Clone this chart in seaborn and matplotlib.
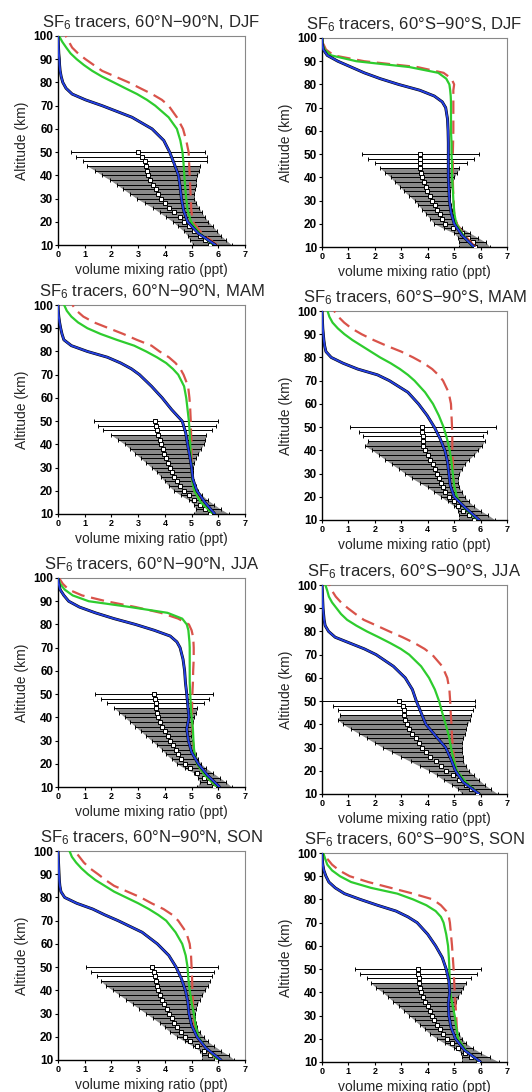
import numpy as np
import pandas as pd
import matplotlib
matplotlib.use("Agg")
import matplotlib.pyplot as plt
import seaborn as sns

# ---------------- data ----------------
ALT_MODEL = [10, 15, 20, 25, 30, 35, 40, 45, 50, 55, 60, 65, 70, 72.5, 75, 77.5,
             80, 82.5, 85, 87.5, 90, 92.5, 95, 97.5, 100]
ALT_OBS = [10, 12, 14, 16, 18, 20, 22, 24, 26, 28, 30, 32, 34, 36, 38, 40, 42, 44, 46, 48, 50]
SEASONS = ["DJF", "MAM", "JJA", "SON"]
X_TICKS = [0, 1, 2, 3, 4, 5, 6, 7]
Y_TICKS = [10, 20, 30, 40, 50, 60, 70, 80, 90, 100]

# 60N-90N DJF
N_DJF_RED = [5.95, 5.39, 5.05, 4.99, 4.97, 4.95, 4.93, 4.91, 4.89, 4.8, 4.68, 4.45, 4.14, 3.89, 3.52, 3.08, 2.65, 2.15, 1.65, 1.34, 1.03, 0.75, 0.53, 0.41, 0.29]
N_DJF_GREEN = [5.82, 5.3, 4.98, 4.85, 4.8, 4.76, 4.73, 4.7, 4.66, 4.58, 4.45, 4.14, 3.64, 3.33, 2.96, 2.52, 2.09, 1.65, 1.28, 0.97, 0.7, 0.47, 0.31, 0.16, 0.04]
N_DJF_BLUE = [5.9, 5.25, 4.85, 4.7, 4.62, 4.57, 4.51, 4.35, 4.18, 3.96, 3.52, 2.77, 1.65, 1.03, 0.53, 0.3, 0.18, 0.12, 0.08, 0.06, 0.05, 0.03, 0.02, 0.01, 0.0]
N_DJF_OBS = [5.7, 5.5, 5.3, 5.1, 4.9, 4.7, 4.55, 4.35, 4.15, 4.0, 3.85, 3.75, 3.65, 3.55, 3.45, 3.38, 3.32, 3.28, 3.25, 3.15, 3.0]
N_DJF_LO = [5.05, 4.95, 4.85, 4.7, 4.5, 4.3, 4.05, 3.8, 3.55, 3.25, 2.95, 2.7, 2.45, 2.2, 1.95, 1.65, 1.4, 1.1, 0.92, 0.67, 0.5]
N_DJF_HI = [6.5, 6.3, 6.1, 5.95, 5.8, 5.63, 5.5, 5.38, 5.28, 5.18, 5.1, 5.1, 5.12, 5.15, 5.18, 5.22, 5.28, 5.32, 5.57, 5.57, 5.5]

# 60S-90S DJF
S_DJF_RED = [5.8, 5.4, 5.1, 5.0, 4.98, 4.96, 4.95, 4.95, 4.95, 4.96, 4.97, 4.97, 4.97, 4.97, 4.97, 4.97, 5.0, 4.9, 4.6, 3.6, 1.6, 0.45, 0.15, 0.05, 0.02]
S_DJF_GREEN = [5.7, 5.35, 5.08, 5.0, 4.97, 4.95, 4.92, 4.92, 4.9, 4.9, 4.88, 4.88, 4.88, 4.88, 4.87, 4.85, 4.82, 4.7, 4.4, 3.3, 1.3, 0.35, 0.1, 0.02, 0.01]
S_DJF_BLUE = [5.75, 5.3, 5.0, 4.88, 4.82, 4.8, 4.78, 4.78, 4.78, 4.78, 4.77, 4.75, 4.68, 4.55, 4.25, 3.7, 2.9, 2.2, 1.6, 1.1, 0.6, 0.2, 0.05, 0.01, 0.0]
S_DJF_OBS = [5.78, 5.7, 5.52, 5.3, 4.95, 4.67, 4.55, 4.45, 4.35, 4.26, 4.17, 4.07, 3.97, 3.92, 3.85, 3.8, 3.75, 3.72, 3.72, 3.72, 3.72]
S_DJF_LO = [5.2, 5.2, 5.15, 5.0, 4.6, 4.25, 4.1, 3.95, 3.8, 3.65, 3.5, 3.3, 3.1, 2.95, 2.75, 2.6, 2.4, 2.2, 2.0, 1.75, 1.5]
S_DJF_HI = [6.35, 6.2, 5.9, 5.6, 5.3, 5.1, 5.0, 4.95, 4.9, 4.87, 4.85, 4.85, 4.85, 4.9, 4.95, 5.0, 5.1, 5.2, 5.5, 5.75, 5.95]

# 60N-90N MAM
N_MAM_RED = [5.85, 5.4, 5.1, 5.02, 5.0, 5.0, 5.0, 4.98, 4.97, 4.95, 4.92, 4.87, 4.7, 4.58, 4.4, 4.15, 3.8, 3.5, 2.95, 2.45, 1.9, 1.35, 0.95, 0.7, 0.54]
N_MAM_GREEN = [5.8, 5.35, 5.1, 5.02, 5.0, 4.97, 4.95, 4.93, 4.9, 4.85, 4.8, 4.72, 4.5, 4.3, 4.05, 3.7, 3.3, 2.85, 2.2, 1.6, 1.1, 0.75, 0.5, 0.33, 0.23]
N_MAM_BLUE = [5.87, 5.5, 5.2, 5.05, 5.0, 4.93, 4.85, 4.78, 4.65, 4.25, 3.9, 3.5, 3.05, 2.75, 2.35, 1.85, 1.1, 0.5, 0.22, 0.15, 0.1, 0.06, 0.03, 0.01, 0.0]
N_MAM_OBS = [5.7, 5.5, 5.3, 5.1, 4.9, 4.7, 4.55, 4.45, 4.35, 4.28, 4.2, 4.12, 4.05, 3.98, 3.92, 3.85, 3.8, 3.76, 3.72, 3.68, 3.64]
N_MAM_LO = [5.1, 5.15, 5.1, 4.9, 4.6, 4.35, 4.15, 4.0, 3.85, 3.7, 3.5, 3.3, 3.1, 2.9, 2.7, 2.5, 2.25, 2.0, 1.7, 1.5, 1.35]
N_MAM_HI = [6.4, 6.1, 5.85, 5.6, 5.4, 5.25, 5.15, 5.1, 5.05, 5.05, 5.05, 5.1, 5.15, 5.25, 5.35, 5.45, 5.5, 5.55, 5.75, 5.9, 6.0]

# 60S-90S MAM
S_MAM_RED = [5.95, 5.4, 5.1, 5.0, 4.97, 4.95, 4.93, 4.93, 4.92, 4.9, 4.88, 4.79, 4.58, 4.4, 4.17, 3.85, 3.45, 3.0, 2.45, 1.95, 1.5, 1.12, 0.84, 0.62, 0.46]
S_MAM_GREEN = [5.9, 5.4, 5.1, 5.0, 4.95, 4.9, 4.83, 4.73, 4.6, 4.42, 4.2, 3.9, 3.5, 3.25, 2.95, 2.6, 2.2, 1.85, 1.5, 1.15, 0.85, 0.6, 0.4, 0.28, 0.21]
S_MAM_BLUE = [5.95, 5.45, 5.0, 4.85, 4.8, 4.75, 4.65, 4.47, 4.25, 3.98, 3.65, 3.25, 2.55, 2.1, 1.35, 0.8, 0.35, 0.15, 0.1, 0.07, 0.05, 0.03, 0.02, 0.01, 0.0]
S_MAM_OBS = [5.75, 5.55, 5.35, 5.15, 5.0, 4.8, 4.65, 4.58, 4.5, 4.42, 4.35, 4.28, 4.2, 4.1, 4.0, 3.9, 3.82, 3.82, 3.82, 3.8, 3.78]
S_MAM_LO = [5.2, 5.2, 5.15, 5.0, 4.75, 4.5, 4.25, 4.0, 3.7, 3.4, 3.15, 2.9, 2.65, 2.4, 2.15, 1.9, 1.62, 1.75, 1.55, 1.4, 1.05]
S_MAM_HI = [6.55, 6.3, 6.0, 5.75, 5.55, 5.4, 5.3, 5.2, 5.15, 5.15, 5.2, 5.3, 5.4, 5.55, 5.75, 5.9, 6.05, 6.15, 6.1, 6.25, 6.6]

# 60N-90N JJA
N_JJA_RED = [5.95, 5.5, 5.2, 5.1, 5.05, 5.03, 5.02, 5.02, 5.03, 5.05, 5.06, 5.08, 5.08, 5.07, 5.05, 5.0, 4.9, 4.5, 3.85, 2.9, 1.8, 0.9, 0.4, 0.18, 0.04]
N_JJA_GREEN = [5.95, 5.5, 5.2, 5.1, 5.07, 5.05, 5.0, 4.97, 4.95, 4.93, 4.93, 4.93, 4.93, 4.92, 4.9, 4.88, 4.82, 4.65, 4.1, 2.7, 1.15, 0.55, 0.25, 0.08, 0.01]
N_JJA_BLUE = [6.05, 5.6, 5.25, 5.0, 4.88, 4.82, 4.9, 4.86, 4.82, 4.77, 4.74, 4.68, 4.57, 4.45, 4.2, 3.6, 2.9, 2.1, 1.4, 0.8, 0.4, 0.22, 0.08, 0.03, 0.0]
N_JJA_OBS = [5.85, 5.65, 5.45, 5.2, 4.95, 4.75, 4.6, 4.5, 4.4, 4.3, 4.2, 4.1, 4.0, 3.9, 3.82, 3.75, 3.7, 3.67, 3.65, 3.62, 3.6]
N_JJA_LO = [5.2, 5.3, 5.25, 5.1, 4.75, 4.45, 4.25, 4.05, 3.9, 3.7, 3.5, 3.3, 3.1, 2.9, 2.7, 2.5, 2.3, 2.1, 1.85, 1.6, 1.4]
N_JJA_HI = [6.5, 6.3, 6.05, 5.8, 5.55, 5.35, 5.25, 5.15, 5.1, 5.05, 5.0, 4.98, 4.98, 5.0, 5.05, 5.1, 5.15, 5.2, 5.45, 5.65, 5.8]

# 60S-90S JJA
S_JJA_RED = [5.95, 5.4, 5.1, 5.0, 4.95, 4.92, 4.9, 4.87, 4.85, 4.82, 4.74, 4.55, 4.17, 3.88, 3.5, 3.05, 2.55, 2.07, 1.58, 1.27, 0.98, 0.72, 0.52, 0.38, 0.28]
S_JJA_GREEN = [5.95, 5.45, 5.1, 4.98, 4.88, 4.8, 4.68, 4.55, 4.43, 4.27, 4.05, 3.75, 3.3, 2.98, 2.58, 2.15, 1.7, 1.3, 0.95, 0.72, 0.55, 0.38, 0.26, 0.2, 0.13]
S_JJA_BLUE = [5.95, 5.35, 5.05, 4.88, 4.68, 4.3, 3.93, 3.75, 3.57, 3.42, 3.15, 2.7, 2.05, 1.6, 1.05, 0.5, 0.25, 0.12, 0.08, 0.06, 0.04, 0.03, 0.02, 0.01, 0.0]
S_JJA_OBS = [5.85, 5.65, 5.45, 5.2, 4.95, 4.7, 4.5, 4.3, 4.1, 3.95, 3.8, 3.67, 3.55, 3.42, 3.3, 3.2, 3.15, 3.12, 3.1, 3.05, 2.9]
S_JJA_LO = [5.3, 5.15, 4.9, 4.6, 4.35, 4.05, 3.7, 3.35, 3.0, 2.65, 2.3, 2.0, 1.7, 1.4, 1.1, 0.8, 0.6, 0.69, 0.6, 0.41, 0.0]
S_JJA_HI = [6.65, 6.4, 6.15, 5.95, 5.75, 5.55, 5.45, 5.35, 5.32, 5.3, 5.3, 5.3, 5.35, 5.4, 5.45, 5.5, 5.6, 5.65, 5.72, 5.8, 5.8]

# 60N-90N SON
N_SON_RED = [6.0, 5.5, 5.2, 5.1, 5.07, 5.05, 5.03, 5.02, 5.0, 4.98, 4.93, 4.8, 4.5, 4.28, 3.95, 3.5, 3.1, 2.6, 2.1, 1.78, 1.5, 1.2, 0.97, 0.8, 0.63]
N_SON_GREEN = [6.0, 5.55, 5.25, 5.15, 5.08, 5.0, 4.93, 4.88, 4.85, 4.78, 4.65, 4.4, 4.05, 3.75, 3.4, 3.0, 2.55, 2.1, 1.75, 1.4, 1.12, 0.88, 0.68, 0.52, 0.43]
N_SON_BLUE = [6.1, 5.55, 5.2, 5.0, 4.9, 4.86, 4.77, 4.62, 4.42, 4.15, 3.72, 3.15, 2.25, 1.75, 1.3, 0.7, 0.25, 0.11, 0.07, 0.05, 0.04, 0.03, 0.02, 0.01, 0.0]
N_SON_OBS = [5.9, 5.7, 5.45, 5.2, 4.95, 4.75, 4.6, 4.45, 4.35, 4.25, 4.15, 4.07, 3.98, 3.9, 3.82, 3.75, 3.7, 3.66, 3.63, 3.58, 3.52]
N_SON_LO = [5.4, 5.4, 5.3, 5.05, 4.75, 4.45, 4.2, 4.0, 3.8, 3.55, 3.3, 3.05, 2.8, 2.55, 2.3, 2.05, 1.8, 1.6, 1.45, 1.25, 1.05]
N_SON_HI = [6.6, 6.4, 6.1, 5.85, 5.6, 5.45, 5.3, 5.2, 5.15, 5.12, 5.12, 5.15, 5.22, 5.3, 5.4, 5.5, 5.6, 5.7, 5.75, 5.85, 6.0]

# 60S-90S SON
S_SON_RED = [5.95, 5.45, 5.15, 5.1, 5.08, 5.05, 5.02, 5.0, 4.98, 4.95, 4.92, 4.88, 4.84, 4.8, 4.7, 4.5, 4.2, 3.45, 2.6, 1.75, 1.05, 0.65, 0.38, 0.2, 0.09]
S_SON_GREEN = [5.95, 5.45, 5.15, 5.08, 5.02, 4.93, 4.85, 4.83, 4.82, 4.8, 4.77, 4.7, 4.6, 4.5, 4.3, 3.95, 3.45, 2.85, 1.85, 1.1, 0.68, 0.38, 0.2, 0.12, 0.05]
S_SON_BLUE = [6.0, 5.4, 5.05, 4.88, 4.8, 4.78, 4.83, 4.8, 4.7, 4.55, 4.3, 4.0, 3.6, 3.25, 2.8, 2.1, 1.45, 0.85, 0.5, 0.26, 0.15, 0.07, 0.03, 0.01, 0.0]
S_SON_OBS = [5.9, 5.65, 5.4, 5.15, 4.92, 4.72, 4.57, 4.45, 4.35, 4.25, 4.17, 4.08, 4.0, 3.9, 3.82, 3.75, 3.7, 3.67, 3.66, 3.65, 3.64]
S_SON_LO = [5.3, 5.3, 5.25, 5.0, 4.65, 4.35, 4.1, 3.9, 3.7, 3.5, 3.3, 3.1, 2.9, 2.7, 2.5, 2.3, 2.05, 1.85, 1.7, 1.45, 1.25]
S_SON_HI = [6.7, 6.35, 6.0, 5.7, 5.45, 5.3, 5.2, 5.12, 5.05, 5.02, 5.0, 5.0, 5.02, 5.08, 5.15, 5.25, 5.35, 5.45, 5.65, 5.85, 6.0]

PANELS = {
    ("N", "DJF"): (N_DJF_RED, N_DJF_GREEN, N_DJF_BLUE, N_DJF_OBS, N_DJF_LO, N_DJF_HI),
    ("S", "DJF"): (S_DJF_RED, S_DJF_GREEN, S_DJF_BLUE, S_DJF_OBS, S_DJF_LO, S_DJF_HI),
    ("N", "MAM"): (N_MAM_RED, N_MAM_GREEN, N_MAM_BLUE, N_MAM_OBS, N_MAM_LO, N_MAM_HI),
    ("S", "MAM"): (S_MAM_RED, S_MAM_GREEN, S_MAM_BLUE, S_MAM_OBS, S_MAM_LO, S_MAM_HI),
    ("N", "JJA"): (N_JJA_RED, N_JJA_GREEN, N_JJA_BLUE, N_JJA_OBS, N_JJA_LO, N_JJA_HI),
    ("S", "JJA"): (S_JJA_RED, S_JJA_GREEN, S_JJA_BLUE, S_JJA_OBS, S_JJA_LO, S_JJA_HI),
    ("N", "SON"): (N_SON_RED, N_SON_GREEN, N_SON_BLUE, N_SON_OBS, N_SON_LO, N_SON_HI),
    ("S", "SON"): (S_SON_RED, S_SON_GREEN, S_SON_BLUE, S_SON_OBS, S_SON_LO, S_SON_HI),
}
REGION_LABEL = {"N": "60°N\u221290°N", "S": "60°S\u221290°S"}

# ---------------- style ----------------
sns.set_theme(style="ticks")
FONT = "Liberation Sans"
plt.rcParams['font.family'] = [FONT, 'DejaVu Sans']
plt.rcParams['mathtext.fontset'] = 'custom'
plt.rcParams['mathtext.rm'] = FONT
plt.rcParams['mathtext.it'] = FONT
plt.rcParams['mathtext.default'] = 'regular'

W, H = 532, 1092
fig = plt.figure(figsize=(W / 100, H / 100), dpi=100)
fig.patch.set_facecolor("white")

COL_LEFT = [58, 322]
COL_W = [187, 185]
ROW_TOP = [[36, 38], [305, 311], [578, 585], [851, 853]]
PH = 209

RED = "#d9534a"
GREEN = "#2ecc2e"
BLUE = "#2540e0"

obs_alt = np.array(ALT_OBS, dtype=float)

for r, season in enumerate(SEASONS):
    for c, hemi in enumerate(["N", "S"]):
        red, green, blue, obs, lo, hi = [np.array(a, dtype=float) for a in PANELS[(hemi, season)]]
        l, t, w = COL_LEFT[c], ROW_TOP[r][c], COL_W[c]
        ax = fig.add_axes([l / W, 1 - (t + PH) / H, w / W, PH / H])

        # observations: grey band + error bars + hollow squares
        band = obs_alt <= 44
        ax.fill_betweenx(obs_alt[band], lo[band], hi[band], color="#8a8a8a", lw=0, zorder=1)
        xerr = np.vstack([np.maximum(obs - lo, 0), np.maximum(hi - obs, 0)])
        ax.errorbar(obs, obs_alt, xerr=xerr, fmt="none", ecolor="black",
                    elinewidth=0.7, capsize=1.6, capthick=0.7, zorder=2)
        sns.scatterplot(x=obs, y=obs_alt, ax=ax, marker="s", s=10,
                        facecolor="white", edgecolor="black", linewidth=0.7, zorder=3)

        # model tracers
        sns.lineplot(x=red, y=ALT_MODEL, ax=ax, orient="y", estimator=None,
                     color=RED, lw=1.6, linestyle=(0, (6, 3)), zorder=4)
        sns.lineplot(x=green, y=ALT_MODEL, ax=ax, orient="y", estimator=None,
                     color=GREEN, lw=1.6, zorder=5)
        sns.lineplot(x=blue, y=ALT_MODEL, ax=ax, orient="y", estimator=None,
                     color="black", lw=2.1, zorder=6)
        sns.lineplot(x=blue, y=ALT_MODEL, ax=ax, orient="y", estimator=None,
                     color=BLUE, lw=1.4, zorder=7)

        ax.set_xlim(0, 7)
        ax.set_ylim(10, 100)
        ax.set_xticks(X_TICKS)
        ax.set_xticklabels([str(v) for v in X_TICKS], fontsize=6.5, fontweight="bold")
        ax.set_yticks(Y_TICKS)
        ax.set_yticklabels([str(v) for v in Y_TICKS], fontsize=8.5, fontweight="bold")
        ax.tick_params(axis="both", direction="out", length=2.5, width=0.8, pad=1, colors="black")
        for side in ["left", "bottom"]:
            ax.spines[side].set_color("black")
            ax.spines[side].set_linewidth(1.0)
        for side in ["top", "right"]:
            ax.spines[side].set_visible(True)
            ax.spines[side].set_color("#888888")
            ax.spines[side].set_linewidth(0.8)
        ax.set_xlabel("volume mixing ratio (ppt)", fontsize=10, labelpad=3)
        ax.set_ylabel("Altitude (km)", fontsize=10, labelpad=3)
        ax.set_title("SF$_6$ tracers, " + REGION_LABEL[hemi] + ", " + season,
                     fontsize=12, pad=6)
        if ax.get_legend() is not None:
            ax.get_legend().remove()

fig.savefig("out.png", dpi=100, facecolor="white")
